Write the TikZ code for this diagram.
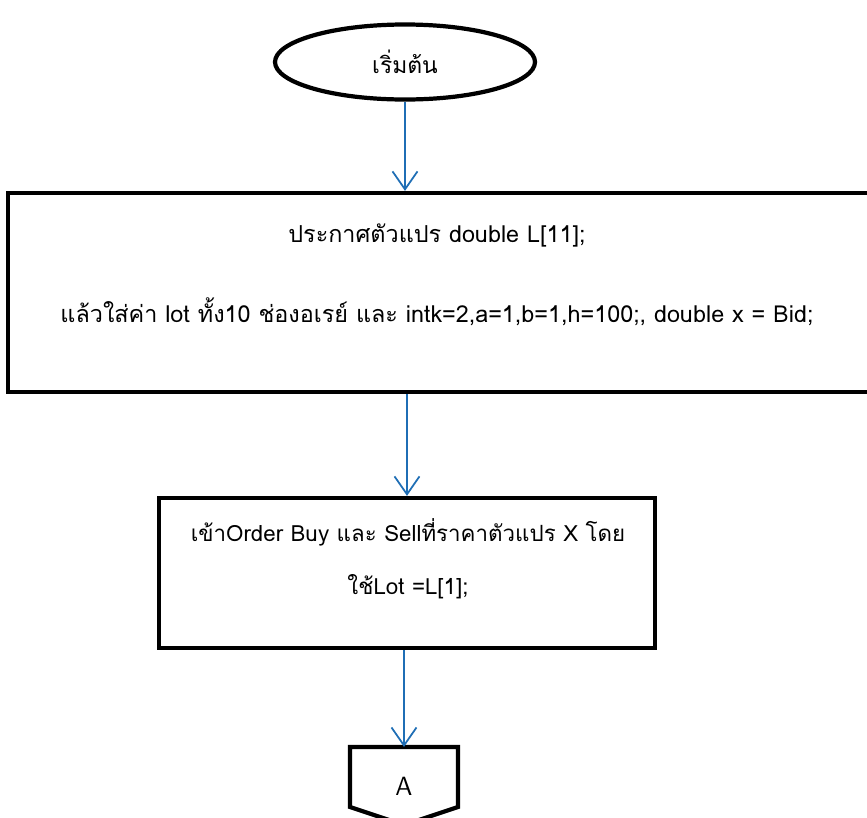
\documentclass[tikz,border=0pt]{standalone}
\usepackage{fontspec}
\newfontfamily\thaifont[Script=Thai]{Loma}
\usepackage{tikz}
\usetikzlibrary{arrows.meta,shapes.geometric}

\definecolor{flowblue}{RGB}{31,110,181}

\tikzset{
  flowbox/.style={draw, line width=2.4pt, rectangle, inner sep=0pt},
  flowtext/.style={font=\thaifont\fontsize{13}{15}\selectfont},
  flowarrow/.style={draw=flowblue, line width=1pt,
    -{Straight Barb[length=3.6mm,width=5mm,line width=1pt]}}
}

\begin{document}
\begin{tikzpicture}
    \useasboundingbox (0, 0) rectangle (17.34, -16.36);

    % start
    \node[draw, ellipse, line width=2.4pt, minimum width=5.2cm,
      minimum height=1.5cm, flowtext](start) at (8.1, -1.24){เริ่มต้น};

    % declarations
    \node[flowbox, minimum width=17.3cm, minimum height=3.98cm](decl)
      at (8.81, -5.85){};
    \node[flowtext, font=\thaifont\fontsize{13.3}{15}\selectfont](declA)
      at (8.74, -4.7){ประกาศตัวแปร double L[11];};
    \node[flowtext, font=\thaifont\fontsize{13.3}{15}\selectfont](declB)
      at (8.74, -6.24)
      {แล้วใส่ค่า lot ทั้ง10 ช่องอเรย์ และ intk=2,a=1,b=1,h=100;, double x = Bid;};

    % order
    \node[flowbox, minimum width=9.92cm, minimum height=3.0cm](order)
      at (8.14, -11.46){};
    \node[flowtext, font=\thaifont\fontsize{12.7}{15}\selectfont](orderA)
      at (8.16, -10.64){เข้าOrder Buy และ Sellที่ราคาตัวแปร X โดย};
    \node[flowtext, font=\thaifont\fontsize{12.7}{15}\selectfont](orderB)
      at (8.16, -11.74){ใช้Lot =L[1];};

    % connector A
    \draw [line width=2.4pt] (7.0, -14.94) -- (9.16, -14.94) -- (9.16, -16.14)
      -- (8.08, -16.5) -- (7.0, -16.14) -- cycle;
    \coordinate (contop) at (8.08, -14.94);
    \node[font=\sffamily\fontsize{15}{17}\selectfont](con) at (8.08, -15.72){A};

    % arrows
    \draw [flowarrow] (start.south) -- (start.south |- decl.north);
    \draw [flowarrow] (decl.south -| order.north) -- (order.north);
    \draw [flowarrow] (order.south -| contop) -- (contop);
  \end{tikzpicture}
\end{document}
